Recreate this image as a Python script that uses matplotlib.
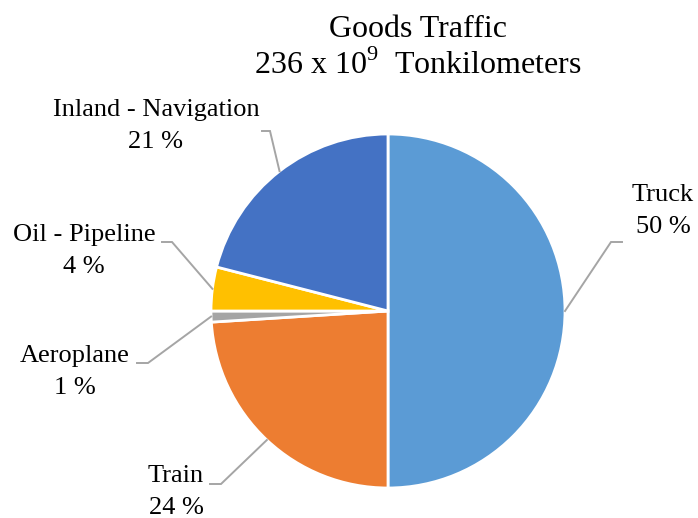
import matplotlib.pyplot as plt
import numpy as np

plt.rcParams['font.family'] = ['Liberation Serif', 'DejaVu Serif']
plt.rcParams['mathtext.fontset'] = 'custom'
plt.rcParams['mathtext.rm'] = 'Liberation Serif'

# modal split of goods traffic, share in percent
modes = ['Truck', 'Train', 'Aeroplane', 'Oil - Pipeline', 'Inland - Navigation']
shares = [50, 24, 1, 4, 21]
colors = ['#5B9BD5', '#ED7D31', '#A5A5A5', '#FFC000', '#4472C4']

W, H = 698, 518
fig = plt.figure(figsize=(W / 100, H / 100), dpi=100)
ax = fig.add_axes([0, 0, 1, 1])

cx, cy, r = 388, H - 311, 177
wedges, _ = ax.pie(shares, colors=colors, startangle=90, counterclock=False,
                   center=(cx, cy), radius=r, frame=True,
                   wedgeprops=dict(edgecolor='white', linewidth=2))
ax.set_xlim(0, W)
ax.set_ylim(0, H)
ax.set_aspect('auto')
ax.axis('off')

# label text centre, elbow of the leader line, end of the horizontal stub
labels_pos = {
    'Truck': ((663, 211), (611, 242), (622, 242)),
    'Train': ((176, 492), (221, 484), (210, 484)),
    'Aeroplane': ((75, 372), (148, 363), (137, 363)),
    'Oil - Pipeline': ((84, 251), (172, 242), (162, 242)),
    'Inland - Navigation': ((156, 126), (270, 131), (262, 131)),
}

for w, name, val in zip(wedges, modes, shares):
    ang = np.deg2rad((w.theta1 + w.theta2) / 2)
    ex, ey = cx + r * np.cos(ang), cy + r * np.sin(ang)
    (tx, ty), (bx, by), (sx, sy) = labels_pos[name]
    ax.plot([ex, bx, sx], [ey, H - by, H - sy], color='#A5A5A5', lw=1.4,
            solid_joinstyle='miter')
    ax.text(tx, H - ty, f'{name}\n{val} %', ha='center', va='center',
            fontsize=19, linespacing=1.55)

ax.text(418, H - 48, 'Goods Traffic\n236 x $\\mathrm{10}^{\\mathrm{9}}$  Tonkilometers',
        ha='center', va='center', fontsize=23, linespacing=1.2)

fig.savefig('out.png', dpi=100)
